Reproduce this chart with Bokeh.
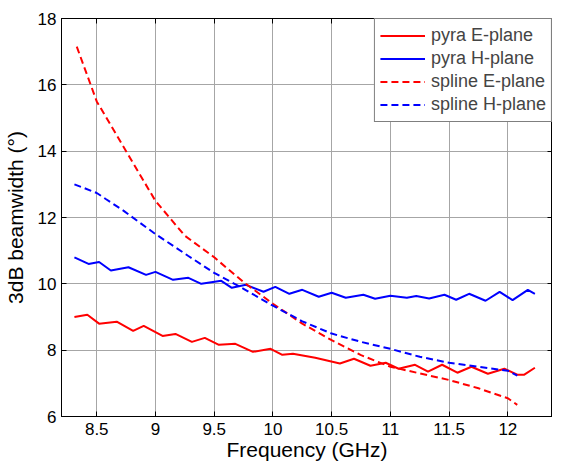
from bokeh.plotting import figure
from bokeh.models import LinearAxis, Legend, LegendItem, FixedTicker, Range1d
from bokeh.embed import file_html
from bokeh.resources import INLINE

# pyra E-plane (red solid)
pe_x = [8.31, 8.42, 8.52, 8.67, 8.81, 8.9, 9.06, 9.17, 9.31, 9.42, 9.54, 9.68, 9.83, 9.98,
        10.08, 10.17, 10.36, 10.57, 10.69, 10.83, 10.96, 11.07, 11.21, 11.32, 11.44, 11.57,
        11.69, 11.83, 11.97, 12.08, 12.14, 12.23]
pe_y = [9.0, 9.07, 8.8, 8.86, 8.58, 8.73, 8.43, 8.49, 8.25, 8.37, 8.16, 8.19, 7.95, 8.04,
        7.86, 7.89, 7.77, 7.6, 7.74, 7.53, 7.62, 7.44, 7.56, 7.35, 7.56, 7.32,
        7.5, 7.29, 7.44, 7.26, 7.26, 7.47]
# pyra H-plane (blue solid)
ph_x = [8.31, 8.43, 8.52, 8.62, 8.77, 8.92, 9.0, 9.15, 9.28, 9.39, 9.56, 9.65, 9.77, 9.92,
        10.02, 10.14, 10.25, 10.39, 10.5, 10.62, 10.77, 10.87, 11.0, 11.14, 11.22, 11.33,
        11.46, 11.56, 11.67, 11.81, 11.93, 12.04, 12.17, 12.23]
ph_y = [10.8, 10.6, 10.66, 10.4, 10.5, 10.27, 10.36, 10.12, 10.18, 10.0, 10.09, 9.88, 9.97, 9.76,
        9.91, 9.7, 9.82, 9.61, 9.73, 9.58, 9.67, 9.55, 9.64, 9.58, 9.63, 9.56,
        9.67, 9.52, 9.7, 9.49, 9.76, 9.51, 9.82, 9.7]
# spline E-plane (red dashed)
se_x = [8.33, 8.5, 8.75, 9.0, 9.25, 9.5, 9.75, 10.0, 10.25, 10.5, 10.75, 11.0, 11.25, 11.5,
        11.75, 12.0, 12.08]
se_y = [17.15, 15.5, 14.0, 12.5, 11.45, 10.8, 10.05, 9.4, 8.8, 8.3, 7.85, 7.5, 7.3, 7.1,
        6.85, 6.55, 6.35]
# spline H-plane (blue dashed)
sh_x = [8.31, 8.5, 8.58, 8.73, 9.0, 9.28, 9.5, 9.75, 10.0, 10.25, 10.5, 10.75, 11.0, 11.25,
        11.5, 11.75, 12.0, 12.08]
sh_y = [13.0, 12.74, 12.55, 12.2, 11.5, 10.84, 10.33, 9.85, 9.34, 8.87, 8.5, 8.25, 8.04, 7.8,
        7.62, 7.5, 7.38, 7.23]

x_ticks = [8.5, 9, 9.5, 10, 10.5, 11, 11.5, 12]
y_ticks = [6, 8, 10, 12, 14, 16, 18]
labels = ["pyra E-plane", "pyra H-plane", "spline E-plane", "spline H-plane"]

FONT = "Liberation Sans"

p = figure(width=552, height=463, output_backend="svg", toolbar_location=None,
           x_range=Range1d(8.2, 12.38), y_range=Range1d(6, 18),
           min_border_left=55, min_border_right=0, min_border_top=18, min_border_bottom=47)
p.outline_line_color = "black"
p.outline_line_width = 1

bottom_ax = p.below[0]
left_ax = p.left[0]

r1 = p.line(pe_x, pe_y, line_color="#ff0000", line_width=2)
r2 = p.line(ph_x, ph_y, line_color="#0000ff", line_width=2)
r3 = p.line(se_x, se_y, line_color="#ff0000", line_width=2, line_dash="7 4")
r4 = p.line(sh_x, sh_y, line_color="#0000ff", line_width=2, line_dash="7 4")

top_ax = LinearAxis(ticker=FixedTicker(ticks=x_ticks),
                    major_label_overrides={t: "" for t in x_ticks},
                    major_label_standoff=0, axis_label_standoff=0,
                    major_label_text_font_size="1px")
right_ax = LinearAxis(ticker=FixedTicker(ticks=y_ticks),
                      major_label_overrides={t: "" for t in y_ticks},
                      major_label_standoff=0, axis_label_standoff=0,
                      major_label_text_font_size="1px")
p.add_layout(top_ax, "above")
p.add_layout(right_ax, "right")

for ax in (bottom_ax, left_ax, top_ax, right_ax):
    ax.major_tick_in = 5
    ax.major_tick_out = 0
    ax.minor_tick_in = 0
    ax.minor_tick_out = 0
    ax.axis_line_color = "black"

for ax in (bottom_ax, left_ax):
    ax.major_label_text_font = FONT
    ax.major_label_text_font_size = "17px"
    ax.major_label_text_color = "black"
    ax.axis_label_text_font = FONT
    ax.axis_label_text_font_size = "21px"
    ax.axis_label_text_font_style = "normal"
    ax.axis_label_text_color = "black"

bottom_ax.ticker = FixedTicker(ticks=x_ticks)
left_ax.ticker = FixedTicker(ticks=y_ticks)
bottom_ax.axis_label = "Frequency (GHz)"
left_ax.axis_label = "3dB beamwidth (°)"
bottom_ax.major_label_standoff = 6
left_ax.major_label_standoff = 5
bottom_ax.axis_label_standoff = 0
left_ax.axis_label_standoff = 8

p.xgrid.ticker = FixedTicker(ticks=x_ticks)
p.ygrid.ticker = FixedTicker(ticks=y_ticks)
p.xgrid.grid_line_color = "#a6a6a6"
p.ygrid.grid_line_color = "#a6a6a6"
p.xgrid.grid_line_width = 1
p.ygrid.grid_line_width = 1

legend = Legend(items=[LegendItem(label=labels[0], renderers=[r1]),
                       LegendItem(label=labels[1], renderers=[r2]),
                       LegendItem(label=labels[2], renderers=[r3]),
                       LegendItem(label=labels[3], renderers=[r4])],
                location="top_right")
legend.margin = 0
legend.padding = 5
legend.spacing = 0
legend.glyph_width = 45
legend.glyph_height = 23
legend.label_height = 23
legend.label_standoff = 6
legend.label_text_font = FONT
legend.label_text_font_size = "18px"
legend.border_line_color = "black"
legend.border_line_width = 1
legend.background_fill_color = "white"
legend.background_fill_alpha = 1
p.add_layout(legend, "center")

open("out.html", "w").write(file_html(p, INLINE))
